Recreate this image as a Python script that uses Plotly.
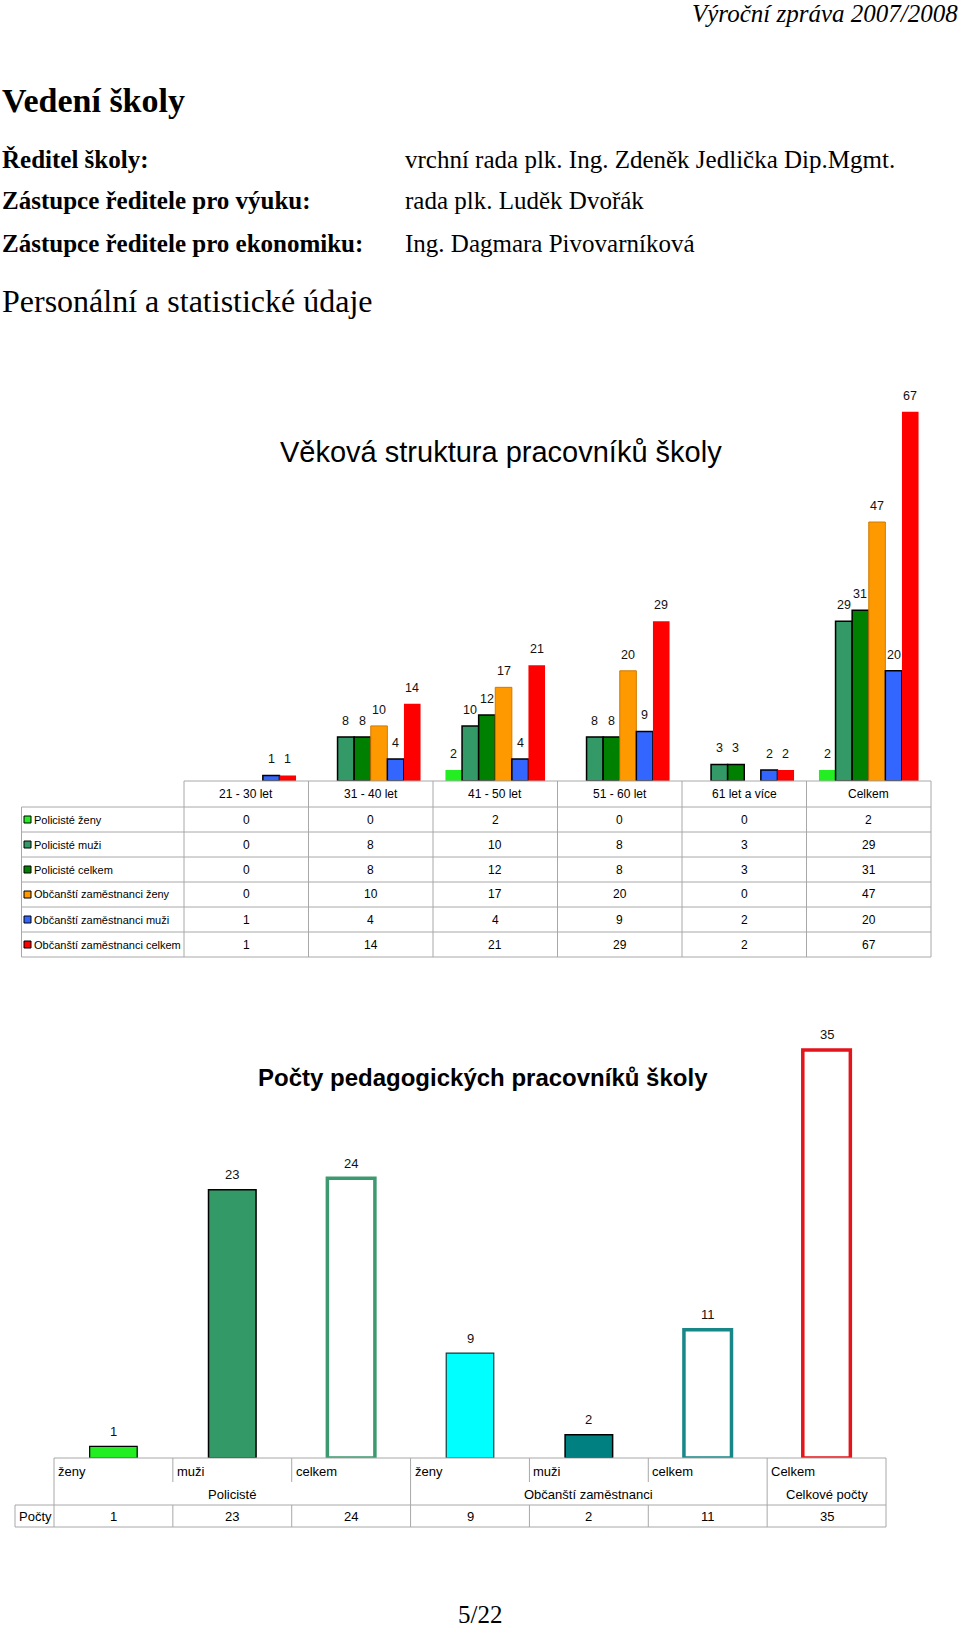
import plotly.graph_objects as go

# ---------------- data ----------------
age_groups = ["21 - 30 let", "31 - 40 let", "41 - 50 let", "51 - 60 let", "61 let a více", "Celkem"]
series_names = ["Policisté ženy", "Policisté muži", "Policisté celkem",
                "Občanští zaměstnanci ženy", "Občanští zaměstnanci muži", "Občanští zaměstnanci celkem"]
pol_zeny = [0, 0, 2, 0, 0, 2]
pol_muzi = [0, 8, 10, 8, 3, 29]
pol_celkem = [0, 8, 12, 8, 3, 31]
oz_zeny = [0, 10, 17, 20, 0, 47]
oz_muzi = [1, 4, 4, 9, 2, 20]
oz_celkem = [1, 14, 21, 29, 2, 67]
series_values = [pol_zeny, pol_muzi, pol_celkem, oz_zeny, oz_muzi, oz_celkem]

ped_sub = ["ženy", "muži", "celkem", "ženy", "muži", "celkem", "Celkem"]
ped_group = ["Policisté", "Policisté", "Policisté",
             "Občanští zaměstnanci", "Občanští zaměstnanci", "Občanští zaměstnanci",
             "Celkové počty"]
ped_counts = [1, 23, 24, 9, 2, 11, 35]
ped_row_label = "Počty"

# ---------------- styles ----------------
W, H = 960, 1627
SERIF = "Liberation Serif, Times New Roman, serif"
SANS = "Liberation Sans, Arial, sans-serif"
GRID = "#a8a8a8"

s1_fill = ["#22EE22", "#339966", "#008000", "#FF9900", "#3366FF", "#FF0000"]
s1_line = ["#22EE22", "#000000", "#000000", "#D07A00", "#000000", "#FF0000"]
s1_lw = [0, 1.5, 1.5, 1, 1.5, 0]

p_fill = ["#22EE22", "#339966", "#FFFFFF", "#00FFFF", "#008080", "#FFFFFF", "#FFFFFF"]
p_line = ["#000000", "#000000", "#3D9970", "#1a3a3a", "#000000", "#178787", "#E3141B"]
p_lw = [1.2, 1.5, 3.5, 1.2, 1.5, 3.5, 3.5]

BARGAP1 = 0.2
BARWIDTH2 = 0.4


def px(x):
    return x / W


def py(y):
    return 1 - y / H


# chart 1 geometry
x1_l, x1_r = 184, 931
base1, unit1, ymax1 = 781, 5.51, 70
top1 = base1 - ymax1 * unit1
colw1 = (x1_r - x1_l) / len(age_groups)
hdr_bot = 807
rowh1 = 25
lab_l = 21.5

# chart 2 geometry
x2_l, x2_r = 54, 886
base2, unit2, ymax2 = 1458, 11.66, 38
top2 = base2 - ymax2 * unit2
colw2 = (x2_r - x2_l) / len(ped_counts)
sub_bot = 1482
grp_bot = 1505
pocty_bot = 1527
pocty_l = 15

fig = go.Figure()
shapes = []
ann = []

# chart 1 bars + value labels
n_s = len(series_names)
slot = (1 - BARGAP1) / n_s
for k, (name, vals, fc, lc, lw) in enumerate(zip(series_names, series_values, s1_fill, s1_line, s1_lw)):
    fig.add_trace(go.Bar(
        x=age_groups, y=vals, name=name,
        marker=dict(color=fc, line=dict(color=lc, width=[lw if v else 0 for v in vals])),
        xaxis="x", yaxis="y", showlegend=False))
    for i, v in enumerate(vals):
        if v:
            ann.append(dict(text=str(v), x=i - (1 - BARGAP1) / 2 + (k + 0.5) * slot, y=v,
                            xref="x", yref="y", showarrow=False, xanchor="center",
                            yanchor="middle", yshift=16,
                            font=dict(size=12.5, family=SANS, color="#111")))

# chart 2 bars
ped_x = [f"{g} – {s}" for g, s in zip(ped_group, ped_sub)]
fig.add_trace(go.Bar(
    x=ped_x, y=ped_counts, width=BARWIDTH2,
    marker=dict(color=p_fill, line=dict(color=p_line, width=p_lw)),
    xaxis="x2", yaxis="y2", showlegend=False))
for xc, v in zip(ped_x, ped_counts):
    ann.append(dict(text=str(v), x=xc, y=v, xref="x2", yref="y2", showarrow=False,
                    xanchor="center", yanchor="middle", yshift=15,
                    font=dict(size=13, family=SANS, color="#111")))


def hline(x0, x1, y, color=GRID, w=1):
    shapes.append(dict(type="line", xref="paper", yref="paper",
                       x0=px(x0), x1=px(x1), y0=py(y), y1=py(y),
                       line=dict(color=color, width=w)))


def vline(x, y0, y1, color=GRID, w=1):
    shapes.append(dict(type="line", xref="paper", yref="paper",
                       x0=px(x), x1=px(x), y0=py(y0), y1=py(y1),
                       line=dict(color=color, width=w)))


def text(t, x, y, size, family, xanchor="center", color="#000"):
    ann.append(dict(text=t, x=px(x), y=py(y),
                    xref="paper", yref="paper", showarrow=False,
                    xanchor=xanchor, yanchor="middle",
                    font=dict(size=size, family=family, color=color)))


# ---------- page texts ----------
text("<i>Výroční zpráva 2007/2008</i>", 960, 14, 25, SERIF, xanchor="right")
text("<b>Vedení školy</b>", 0, 101, 34, SERIF, xanchor="left")
left_col = ["<b>Ředitel školy:</b>", "<b>Zástupce ředitele pro výuku:</b>",
            "<b>Zástupce ředitele pro ekonomiku:</b>"]
right_col = ["vrchní rada plk. Ing. Zdeněk Jedlička Dip.Mgmt.", "rada plk. Luděk Dvořák",
             "Ing. Dagmara Pivovarníková"]
for lt, rt, yy in zip(left_col, right_col, [159, 201, 243]):
    text(lt, 0, yy, 25, SERIF, xanchor="left")
    text(rt, 403, yy, 25, SERIF, xanchor="left")
text("Personální a statistické údaje", 0, 301, 32, SERIF, xanchor="left")
text("5/22", 480, 1614, 25, SERIF)

# ---------- chart 1 ----------
text("Věková struktura pracovníků školy", 501, 452, 29, SANS)

hline(x1_l, x1_r, base1)
for i in range(n_s + 1):
    hline(lab_l, x1_r, hdr_bot + i * rowh1)
vline(lab_l, hdr_bot, hdr_bot + n_s * rowh1)
for j in range(len(age_groups) + 1):
    vline(x1_l + j * colw1, base1, hdr_bot + n_s * rowh1)

for cat in age_groups:
    ann.append(dict(text=cat, x=cat, y=py((base1 + hdr_bot) / 2), xref="x", yref="paper",
                    showarrow=False, xanchor="center", yanchor="middle",
                    font=dict(size=12, family=SANS, color="#000")))
for i, (name, vals, fc) in enumerate(zip(series_names, series_values, s1_fill)):
    yc = hdr_bot + (i + 0.5) * rowh1
    shapes.append(dict(type="rect", xref="paper", yref="paper",
                       x0=px(24), x1=px(31), y0=py(yc + 3.5), y1=py(yc - 3.5),
                       fillcolor=fc, line=dict(color="#000", width=1)))
    text(name, 32, yc, 11, SANS, xanchor="left")
    for cat, v in zip(age_groups, vals):
        ann.append(dict(text=str(v), x=cat, y=py(yc), xref="x", yref="paper",
                        showarrow=False, xanchor="center", yanchor="middle",
                        font=dict(size=12, family=SANS, color="#000")))

# ---------- chart 2 ----------
text("<b>Počty pedagogických pracovníků školy</b>", 483, 1077, 24, SANS)

hline(x2_l, x2_r, base2)
hline(pocty_l, x2_r, grp_bot)
hline(pocty_l, x2_r, pocty_bot)
vline(pocty_l, grp_bot, pocty_bot)
for j in range(len(ped_counts) + 1):
    xx = x2_l + j * colw2
    is_group_edge = (j == 0 or j == len(ped_counts) or ped_group[j] != ped_group[j - 1])
    if is_group_edge:
        vline(xx, base2, pocty_bot)
    else:
        vline(xx, base2, sub_bot)
        vline(xx, grp_bot, pocty_bot)

for j, (s, v, xc) in enumerate(zip(ped_sub, ped_counts, ped_x)):
    text(s, x2_l + j * colw2 + 2, (base2 + sub_bot) / 2 + 1, 13, SANS, xanchor="left")
    ann.append(dict(text=str(v), x=xc, y=py((grp_bot + pocty_bot) / 2), xref="x2", yref="paper",
                    showarrow=False, xanchor="center", yanchor="middle",
                    font=dict(size=13, family=SANS, color="#000")))
start = 0
for j in range(1, len(ped_group) + 1):
    if j == len(ped_group) or ped_group[j] != ped_group[start]:
        xc = x2_l + (start + j) / 2 * colw2
        text(ped_group[start], xc, (sub_bot + grp_bot) / 2 + 0.5, 13, SANS)
        start = j
text(ped_row_label, pocty_l + 2, (grp_bot + pocty_bot) / 2, 13, SANS, xanchor="left")

axis_common = dict(showgrid=False, zeroline=False, showticklabels=False, ticks="",
                   showline=False, fixedrange=True)
fig.update_layout(
    width=W, height=H, margin=dict(l=0, r=0, t=0, b=0),
    paper_bgcolor="white", plot_bgcolor="white",
    barmode="group", bargap=BARGAP1, bargroupgap=0,
    showlegend=False,
    xaxis=dict(domain=[px(x1_l), px(x1_r)], type="category", **axis_common),
    yaxis=dict(domain=[py(base1), py(top1)], range=[0, ymax1], **axis_common),
    xaxis2=dict(domain=[px(x2_l), px(x2_r)], type="category", anchor="y2", **axis_common),
    yaxis2=dict(domain=[py(base2), py(top2)], range=[0, ymax2], anchor="x2", **axis_common),
    shapes=shapes, annotations=ann,
)
fig.write_html("out.html")
